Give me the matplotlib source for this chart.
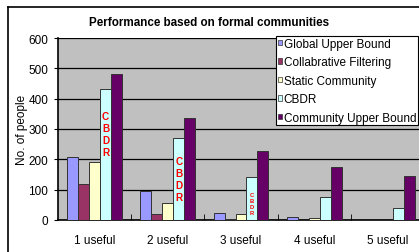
import matplotlib.pyplot as plt
import numpy as np

plt.rcParams["font.family"] = ["Liberation Sans", "DejaVu Sans"]

groups = ["1 useful", "2 useful", "3 useful", "4 useful", "5 useful"]
series = ["Global Upper Bound", "Collabrative Filtering", "Static Community",
          "CBDR", "Community Upper Bound"]
global_upper = [208, 95, 24, 9, 0]
collab_filter = [118, 19, 2, 0, 0]
static_comm = [191, 56, 20, 5, 0]
cbdr = [432, 269, 142, 75, 38]
comm_upper = [480, 335, 227, 175, 146]
colors = ["#9999FF", "#993366", "#FFFFCC", "#CCFFFF", "#660066"]

values = [global_upper, collab_filter, static_comm, cbdr, comm_upper]

fig = plt.figure(figsize=(4.19, 2.53), dpi=100)
ax = fig.add_axes([58 / 419, 32 / 253, 366 / 419, 182 / 253])
ax.set_facecolor("#C0C0C0")

x = np.arange(len(groups))
w = 0.15
for i, (name, vals, c) in enumerate(zip(series, values, colors)):
    ax.bar(x + (i - 2) * w, vals, w, color=c, edgecolor="#333333",
           linewidth=0.7, label=name, zorder=3)

# vertical "CBDR" labels inside the CBDR bars
for gi, yv, fs in [(0, 283, 7.2), (1, 135, 7.2), (2, 56, 4.2)]:
    ax.text(x[gi] + w, yv, "C\nB\nD\nR", color="red", fontweight="bold",
            fontsize=fs, ha="center", va="center", linespacing=1.25, zorder=4)

ax.set_xlim(-0.5, 4.5)
ax.set_ylim(0, 600)
ax.set_yticks(range(0, 601, 100))
ax.yaxis.grid(True, color="black", linewidth=0.9, zorder=1)
ax.set_xticks(x)
ax.set_xticklabels(groups, fontsize=8.5)
ax.set_xticks(np.arange(0.5, 4.5, 1), minor=True)
ax.tick_params(axis="x", which="major", length=0, pad=10)
ax.tick_params(axis="x", which="minor", length=4, direction="in")
ax.tick_params(axis="y", labelsize=8.5, length=3, pad=4)
for s in ["top", "right"]:
    ax.spines[s].set_visible(False)
ax.spines["left"].set_linewidth(1.2)
ax.spines["bottom"].set_linewidth(1.2)
ax.set_ylabel("No. of people", fontsize=8.5, labelpad=0)

leg = ax.legend(loc="upper left", bbox_to_anchor=(218 / 366, 1.012), fontsize=8.5,
                frameon=True, fancybox=False, edgecolor="black", framealpha=1,
                handlelength=0.35, handleheight=0.35, handletextpad=0.15,
                labelspacing=0.55, borderpad=0.15, borderaxespad=0)
leg.get_frame().set_linewidth(0.8)
for h in leg.legend_handles:
    h.set_linewidth(0.5)

fig.text(0.5, 1 - 23 / 253, "Performance based on formal communities",
         ha="center", va="center", fontsize=8.4, fontweight="bold")

# outer chart border (top and left visible)
fig.add_artist(plt.Line2D([8 / 419, 1], [1 - 8 / 253] * 2, color="black", lw=1.2))
fig.add_artist(plt.Line2D([8 / 419] * 2, [0, 1 - 8 / 253], color="black", lw=1.2))

fig.savefig("out.png", dpi=100)
